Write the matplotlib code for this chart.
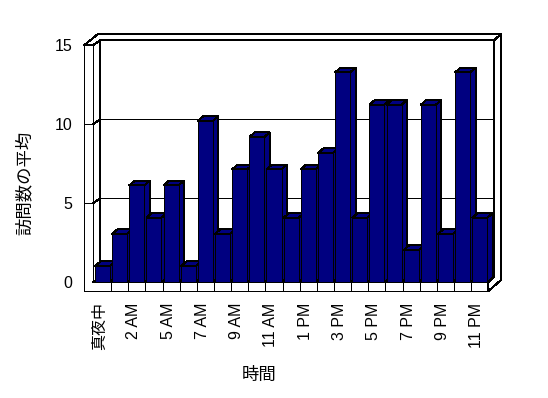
import matplotlib
matplotlib.use("Agg")
import matplotlib.pyplot as plt
from matplotlib.patches import Polygon
from matplotlib.lines import Line2D
from matplotlib.transforms import ScaledTranslation
import numpy as np

# ---------------- data ----------------
categories = ["真夜中", "1 AM", "2 AM", "4 AM", "5 AM", "6 AM", "7 AM", "8 AM",
              "9 AM", "10 AM", "11 AM", "正午", "1 PM", "2 PM", "3 PM", "4 PM",
              "5 PM", "6 PM", "7 PM", "8 PM", "9 PM", "10 PM", "11 PM"]
values = [1, 3, 6, 4, 6, 1, 10, 3, 7, 9, 7, 4, 7, 8, 13, 4, 11, 11, 2, 11, 3, 13, 4]
y_ticks = [0, 5, 10, 15]
x_title = "時間"
y_title = "訪問数の平均"

# ---------------- style / layout ----------------
W, H, DPI = 548, 398, 100
NAVY = "#000080"
LW = 0.72
AA = False
plt.rcParams['font.family'] = ['Liberation Sans', 'Noto Sans CJK JP', 'DejaVu Sans']

fig = plt.figure(figsize=(W / DPI, H / DPI), dpi=DPI)
fig.patch.set_facecolor('white')


def rect(x0, y0, x1, y1):
    return [x0 / W, 1 - y1 / H, (x1 - x0) / W, (y1 - y0) / H]


def P(x, y):
    return (x / W, 1 - y / H)


def poly(pts, z=1, fc='white'):
    fig.add_artist(Polygon([P(*p) for p in pts], closed=True, facecolor=fc,
                           edgecolor='black', linewidth=LW, zorder=z,
                           antialiased=AA, transform=fig.transFigure))


# pixel layout of the 3-D box
WF_L, WF_R = 84, 93
WB_L, WB_R = 100, 494
TOP_F, TOP_B, TOP_O = 45.3, 40.3, 34
FLOOR_F, FLOOR_B, FLOOR_BOT = 282.3, 277.3, 291
BAR_L, BAR_R = 93.9, 488.4
RIGHT_O, LEFT_O = 501, 98
BAR_UNIT = 16.15
VMAX = y_ticks[-1]
DXP, DYP = 5.5, 4.7

# walls
poly([(WB_L, TOP_B), (WB_R, TOP_B), (WB_R, FLOOR_B), (WB_L, FLOOR_B)])
poly([(WF_R, TOP_F), (WB_L, TOP_B), (WB_L, FLOOR_B), (WF_R, FLOOR_F)])
poly([(WF_L, TOP_F), (LEFT_O, TOP_O), (RIGHT_O, TOP_O), (WB_R, TOP_B),
      (WB_L, TOP_B), (WF_R, TOP_F)])
poly([(WF_L, TOP_F), (WF_R, TOP_F), (WF_R, FLOOR_F), (BAR_R, FLOOR_F),
      (BAR_R, FLOOR_BOT), (WF_L, FLOOR_BOT)])
poly([(WF_R, FLOOR_F), (BAR_R, FLOOR_F), (WB_R, FLOOR_B), (WB_L, FLOOR_B)])
poly([(WB_R, TOP_B), (RIGHT_O, TOP_O), (RIGHT_O, 280), (BAR_R, FLOOR_BOT),
      (BAR_R, FLOOR_F), (WB_R, FLOOR_B)])

# back wall plane axes (gridlines)
axw = fig.add_axes(rect(WB_L, TOP_B, WB_R, FLOOR_B), zorder=2)
axw.set_xlim(0, 1)
axw.set_ylim(0, VMAX)
axw.patch.set_visible(False)
axw.axis('off')
for t in y_ticks[1:-1]:
    axw.axhline(t, color='black', lw=LW, antialiased=AA)

# left wall front plane axes (ticks + labels)
axf = fig.add_axes(rect(WF_L, TOP_F, WF_R, FLOOR_F), zorder=2)
axf.set_xlim(0, 1)
axf.set_ylim(0, VMAX)
axf.patch.set_visible(False)
for s in axf.spines.values():
    s.set_visible(False)
axf.set_xticks([])
axf.set_yticks(y_ticks)
axf.set_yticklabels([str(t) for t in y_ticks], fontsize=11.5)
axf.tick_params(axis='y', length=0, pad=8.5)
for t in y_ticks[1:-1]:
    axf.axhline(t, color='black', lw=LW, antialiased=AA)

# diagonals of the gridlines on the left wall inner face
inv = fig.transFigure.inverted()
for t in y_ticks[1:-1]:
    a = inv.transform(axf.transData.transform((1, t)))
    b = inv.transform(axw.transData.transform((0, t)))
    fig.add_artist(Line2D([a[0], b[0]], [a[1], b[1]], color='black', lw=LW,
                          antialiased=AA, transform=fig.transFigure, zorder=2))

# bars axes (front plane)
axb = fig.add_axes(rect(BAR_L, FLOOR_F - BAR_UNIT * VMAX, BAR_R, FLOOR_F), zorder=3)
n = len(values)
axb.set_xlim(-0.5, n - 0.5)
axb.set_ylim(0, VMAX)
axb.patch.set_visible(False)
for s in axb.spines.values():
    s.set_visible(False)

px_per_cat = (BAR_R - BAR_L) / n
DX = DXP / px_per_cat
DY = DYP / BAR_UNIT
bw = 0.875
x = np.arange(n)
for i, v in enumerate(values):
    l, r = i - bw / 2, i + bw / 2
    side = [(r, 0), (r + DX, DY), (r + DX, v + DY), (r, v)]
    top = [(l, v), (l + DX, v + DY), (r + DX, v + DY), (r, v)]
    for pts in (side, top):
        axb.add_patch(Polygon(pts, closed=True, facecolor=NAVY, edgecolor='black',
                              linewidth=LW, antialiased=AA, clip_on=False,
                              zorder=2 + i * 0.01))
    axb.add_patch(Polygon([(l, 0), (r, 0), (r, v), (l, v)], closed=True,
                          facecolor=NAVY, edgecolor='black', linewidth=LW,
                          antialiased=AA, clip_on=False, zorder=2.005 + i * 0.01))

# floor front strip dividers
floor_depth = (FLOOR_BOT - FLOOR_F) / BAR_UNIT
axb.vlines(np.arange(n - 1) + 0.5, -floor_depth, 0, colors='black', lw=LW,
           antialiased=AA, clip_on=False, zorder=5)

axb.set_yticks([])
axb.set_xticks(x[::2])
axb.set_xticklabels(categories[::2], rotation=90, fontsize=11.5)
axb.tick_params(axis='x', length=0, pad=14.5)
shift = ScaledTranslation(-3 / DPI, 0, fig.dpi_scale_trans)
for lab in axb.get_xticklabels():
    lab.set_transform(lab.get_transform() + shift)

# titles
fig.text(*P(24, 183), y_title, rotation=90, ha='center', va='center', fontsize=12.5)
fig.text(*P(259.5, 375), x_title, ha='center', va='center', fontsize=12.5)

fig.savefig("out.png", dpi=DPI, facecolor='white')
